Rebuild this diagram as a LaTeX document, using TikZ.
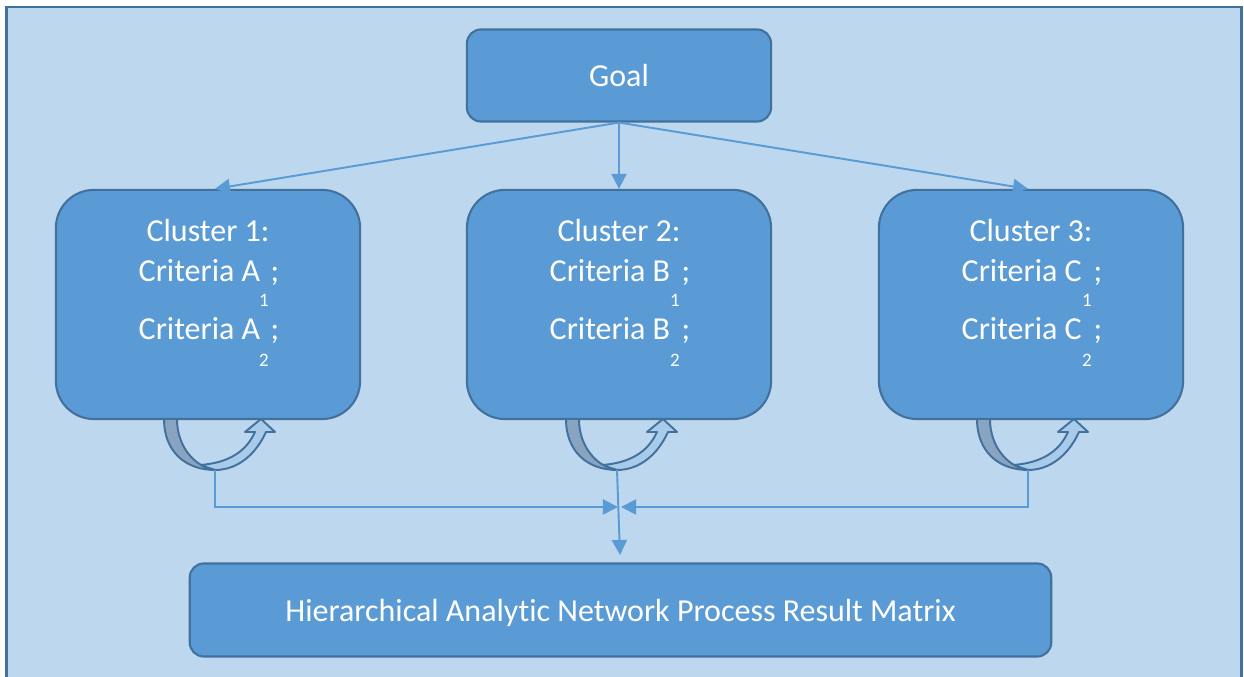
\documentclass[tikz,border=0pt]{standalone}
\usepackage{fontspec}
\setmainfont{Carlito}[Ligatures={NoCommon}]
\usetikzlibrary{arrows.meta}
\definecolor{bgblue}{HTML}{BDD7EE}
\definecolor{boxblue}{HTML}{5B9BD5}
\definecolor{edgeblue}{HTML}{41719C}
\definecolor{bandDark}{HTML}{88A4C0}
\definecolor{bandLight}{HTML}{A9CBEA}
\tikzset{
  box/.style={draw=edgeblue, line width=0.6pt, fill=boxblue, rounded corners=0.14cm,
    minimum width=3.04cm, minimum height=0.92cm, inner sep=0pt},
  clusterbox/.style={box, rounded corners=0.38cm, minimum height=2.29cm},
  label/.style={text=white, font=\fontsize{9.1}{10}\selectfont, inner sep=0pt},
  sublabel/.style={text=white, font=\fontsize{5.4}{6}\selectfont, inner sep=0pt, anchor=base},
  link/.style={draw=boxblue, line width=0.55pt, -{Triangle[length=0.15cm,width=0.15cm]}},
  uturn/.style={draw=edgeblue, line width=0.55pt, line join=round},
}
% one cluster box with its two criteria lines
\newcommand{\clusterblock}[4]{%
  \begin{scope}[shift={(#2,0)}]
    \node[clusterbox] (#1) at (208,304.5) {};
    \node[label, anchor=base] (#1-title) at (208,242) {Cluster #3:};
    \node[label, anchor=base west] (#1-a) at (138,282) {Criteria #4};
    \node[label, anchor=base west] (#1-as) at (270,282) {;};
    \node[sublabel] (#1-ai) at (264,307) {1};
    \node[label, anchor=base west] (#1-b) at (138,340) {Criteria #4};
    \node[label, anchor=base west] (#1-bs) at (270,340) {;};
    \node[sublabel] (#1-bi) at (264,367) {2};
  \end{scope}}
% self-loop U-turn arrow below a cluster
\newcommand{\uturnarrow}[2]{%
  \begin{scope}[shift={(#1,0)}]
    \path[uturn, fill=bandLight] (215,470) .. controls (238,470) and (256,454) .. (266,432)
      -- (275,432) -- (261,419) -- (245,432) -- (255,432)
      .. controls (246,452) and (228,463) .. (200,465) -- cycle;
    \path[uturn, fill=bandDark] (164,419) .. controls (164,452) and (186,470) .. (215,470)
      .. controls (195,467) and (177,447) .. (177,419) -- cycle;
    \coordinate (#2) at (215,470);
  \end{scope}}
\begin{document}
\begin{tikzpicture}[x=0.01cm, y=-0.01cm]
  \useasboundingbox (0,0) rectangle (1244,677);
  \path[fill=bgblue, draw=edgeblue, line width=0.7pt] (6.5,7) rectangle (1241.5,700);

  \node[box] (goal) at (619,75.5) {};
  \node[label, anchor=base] (goal-text) at (619,87) {Goal};

  \clusterblock{c1}{0}{1}{A}
  \clusterblock{c2}{411}{2}{B}
  \clusterblock{c3}{823}{3}{C}

  \node[box, minimum width=8.61cm, minimum height=0.93cm] (res) at (620.5,610) {};
  \node[label, anchor=base] (res-text) at (620.5,622) {Hierarchical Analytic Network Process Result Matrix};

  \uturnarrow{0}{u1}
  \uturnarrow{402}{u2}
  \uturnarrow{813}{u3}

  % goal to clusters
  \draw[link] (goal.south) -- (c1.north -| u1);
  \draw[link] (goal.south) -- (c2.north);
  \draw[link] (goal.south) -- (c3.north -| u3);

  % clusters to the result matrix
  \coordinate (ml) at (618,507);
  \coordinate (mr) at (621,507);
  \coordinate (rin) at (620,555);
  \draw[link] (u1) |- (ml);
  \draw[link] (u3) |- (mr);
  \draw[link] (u2) -- (rin);
\end{tikzpicture}
\end{document}
